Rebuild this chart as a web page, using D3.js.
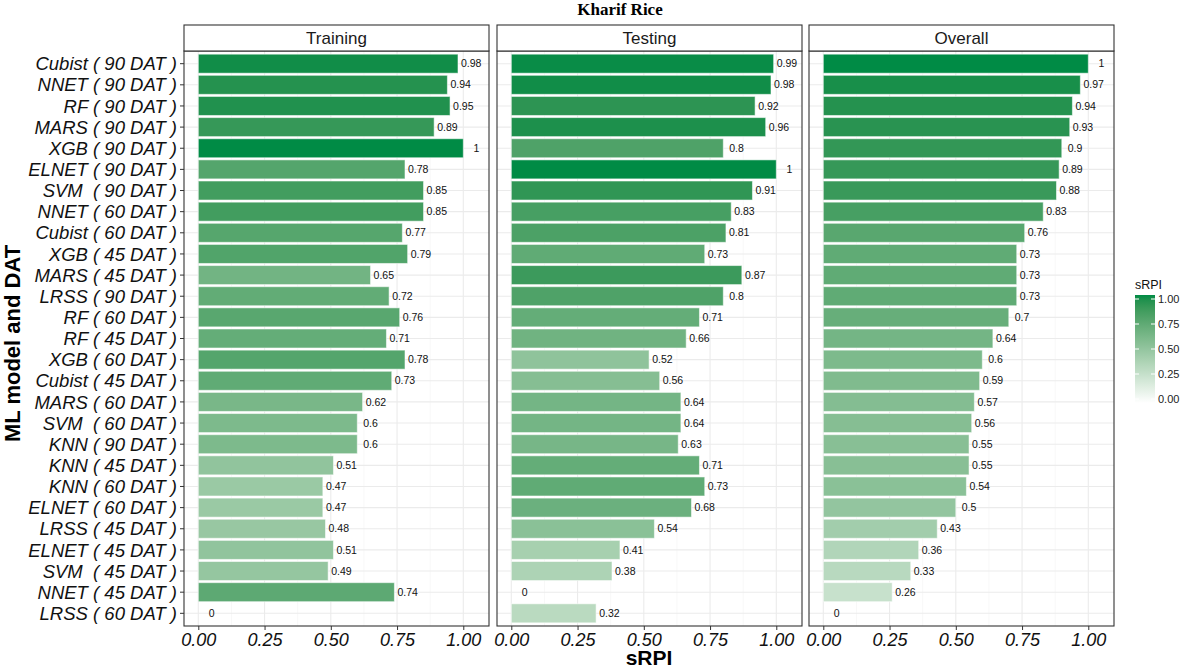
<html>
<head>
    <script src="https://d3js.org/d3.v7.min.js"></script>
    <style>
        body { margin: 0; background: white; }
        text { font-family: "Liberation Sans", Arial, sans-serif; }
    </style>
</head>
<body>
    <svg id="svg" width="1182" height="669"></svg>
    <script>
        // rows top to bottom
        const models = ["Cubist ( 90 DAT )", "NNET ( 90 DAT )", "RF ( 90 DAT )", "MARS ( 90 DAT )",
            "XGB ( 90 DAT )", "ELNET ( 90 DAT )", "SVM  ( 90 DAT )", "NNET ( 60 DAT )", "Cubist ( 60 DAT )",
            "XGB ( 45 DAT )", "MARS ( 45 DAT )", "LRSS ( 90 DAT )", "RF ( 60 DAT )", "RF ( 45 DAT )",
            "XGB ( 60 DAT )", "Cubist ( 45 DAT )", "MARS ( 60 DAT )", "SVM  ( 60 DAT )", "KNN ( 90 DAT )",
            "KNN ( 45 DAT )", "KNN ( 60 DAT )", "ELNET ( 60 DAT )", "LRSS ( 45 DAT )", "ELNET ( 45 DAT )",
            "SVM  ( 45 DAT )", "NNET ( 45 DAT )", "LRSS ( 60 DAT )"];
        const panels = ["Training", "Testing", "Overall"];
        const training = [0.98, 0.94, 0.95, 0.89, 1, 0.78, 0.85, 0.85, 0.77, 0.79, 0.65, 0.72, 0.76, 0.71,
            0.78, 0.73, 0.62, 0.6, 0.6, 0.51, 0.47, 0.47, 0.48, 0.51, 0.49, 0.74, 0];
        const testing = [0.99, 0.98, 0.92, 0.96, 0.8, 1, 0.91, 0.83, 0.81, 0.73, 0.87, 0.8, 0.71, 0.66,
            0.52, 0.56, 0.64, 0.64, 0.63, 0.71, 0.73, 0.68, 0.54, 0.41, 0.38, 0, 0.32];
        const overall = [1, 0.97, 0.94, 0.93, 0.9, 0.89, 0.88, 0.83, 0.76, 0.73, 0.73, 0.73, 0.7, 0.64,
            0.6, 0.59, 0.57, 0.56, 0.55, 0.55, 0.54, 0.5, 0.43, 0.36, 0.33, 0.26, 0];
        const xTicks = [0, 0.25, 0.5, 0.75, 1];
        const legendTicks = [0, 0.25, 0.5, 0.75, 1];

        const series = [training, testing, overall];

        const svg = d3.select("#svg");
        const panelLeft = [184, 497, 809];
        const panelW = 305;
        const plotTop = 51, plotBottom = 626, stripTop = 25;

        const color = d3.scaleLinear().domain([0, 1]).range(["#FFFFFF", "#008B45"]).interpolate(d3.interpolateLab);
        const fmt = v => String(+v.toFixed(2));

        // ggplot-like discrete axis: 0.6 units of padding at each end
        const yScale = d3.scalePoint().domain(models)
            .range([plotTop, plotBottom]).padding(0.6);
        const barH = yScale.step() * 0.9;

        panels.forEach((p, k) => {
            const x0 = panelLeft[k];
            const x = d3.scaleLinear().domain([-0.054, 1.097]).range([x0, x0 + panelW]);
            const g = svg.append("g");

            // minor grid
            g.selectAll("line.minor").data([0.125, 0.375, 0.625, 0.875])
                .join("line")
                .attr("x1", d => x(d)).attr("x2", d => x(d))
                .attr("y1", plotTop).attr("y2", plotBottom)
                .style("stroke", "#F2F2F2").style("stroke-width", 0.6);
            g.selectAll("line.vmajor").data(xTicks)
                .join("line")
                .attr("x1", d => x(d)).attr("x2", d => x(d))
                .attr("y1", plotTop).attr("y2", plotBottom)
                .style("stroke", "#EBEBEB").style("stroke-width", 1.1);
            g.selectAll("line.hmajor").data(models)
                .join("line")
                .attr("x1", x0).attr("x2", x0 + panelW)
                .attr("y1", d => yScale(d)).attr("y2", d => yScale(d))
                .style("stroke", "#EBEBEB").style("stroke-width", 1.1);

            const vals = series[k];
            g.selectAll("rect.bar").data(vals)
                .join("rect")
                .attr("x", x(0))
                .attr("y", (_, i) => yScale(models[i]) - barH / 2)
                .attr("width", d => x(d) - x(0))
                .attr("height", barH)
                .style("fill", d => color(d))
                .style("stroke", "rgba(255,255,255,0.55)")
                .style("stroke-width", 1)
                .style("display", d => d > 0 ? null : "none");

            g.selectAll("text.val").data(vals)
                .join("text")
                .attr("x", d => x(d + 0.05))
                .attr("y", (_, i) => yScale(models[i]))
                .attr("dy", "0.35em")
                .style("text-anchor", "middle")
                .style("font-size", "10.5px")
                .style("fill", "#111")
                .text(d => fmt(d));

            // panel border
            g.append("rect")
                .attr("x", x0).attr("y", plotTop)
                .attr("width", panelW).attr("height", plotBottom - plotTop)
                .style("fill", "none").style("stroke", "#333").style("stroke-width", 1.1);
            // strip
            g.append("rect")
                .attr("x", x0).attr("y", stripTop)
                .attr("width", panelW).attr("height", plotTop - stripTop)
                .style("fill", "white").style("stroke", "#333").style("stroke-width", 1.1);
            g.append("text")
                .attr("x", x0 + panelW / 2).attr("y", (stripTop + plotTop) / 2)
                .attr("dy", "0.36em")
                .style("text-anchor", "middle")
                .style("font-size", "17px")
                .style("fill", "#1a1a1a")
                .text(p);

            // x axis
            const ax = svg.append("g").attr("transform", `translate(0,${plotBottom})`)
                .call(d3.axisBottom(x).tickValues(xTicks).tickFormat(d3.format(".2f")).tickSize(4).tickPadding(3));
            ax.select(".domain").remove();
            ax.selectAll(".tick line").style("stroke", "#333");
            ax.selectAll(".tick text")
                .style("font-family", "'Liberation Sans', Arial, sans-serif")
                .style("font-size", "18px").style("font-style", "italic").style("fill", "#111");
        });

        // y axis labels
        const ya = svg.append("g");
        ya.selectAll("line").data(models).join("line")
            .attr("x1", 180).attr("x2", 184)
            .attr("y1", d => yScale(d)).attr("y2", d => yScale(d))
            .style("stroke", "#333");
        ya.selectAll("text").data(models).join("text")
            .attr("x", 177)
            .attr("y", d => yScale(d))
            .attr("dy", "0.36em")
            .style("text-anchor", "end")
            .style("font-size", "18.5px")
            .style("font-style", "italic")
            .style("white-space", "pre")
            .style("fill", "#111")
            .text(d => d);

        // axis titles
        svg.append("text")
            .attr("transform", `translate(20,${(plotTop + plotBottom) / 2 + 5}) rotate(-90)`)
            .style("text-anchor", "middle")
            .style("font-size", "22px").style("font-weight", "bold")
            .text("ML model and DAT");
        svg.append("text")
            .attr("x", (panelLeft[0] + panelLeft[2] + panelW) / 2).attr("y", 665)
            .style("text-anchor", "middle")
            .style("font-size", "21px").style("font-weight", "bold")
            .text("sRPI");
        svg.append("text")
            .attr("x", 620).attr("y", 15)
            .style("text-anchor", "middle")
            .style("font-family", "'Liberation Serif', 'Times New Roman', serif")
            .style("font-size", "17px").style("font-weight", "bold")
            .text("Kharif Rice");

        // legend colourbar
        const lg = svg.append("g");
        const ly = d3.scaleLinear().domain([0, 1]).range([399, 299]);
        const defs = svg.append("defs");
        const grad = defs.append("linearGradient").attr("id", "grad")
            .attr("x1", 0).attr("y1", 1).attr("x2", 0).attr("y2", 0);
        d3.range(0, 1.0001, 0.05).forEach(t => {
            grad.append("stop").attr("offset", t).attr("stop-color", color(t));
        });
        lg.append("rect")
            .attr("x", 1135).attr("y", ly(1.04))
            .attr("width", 20).attr("height", ly(-0.04) - ly(1.04))
            .style("fill", "url(#grad)");
        lg.selectAll("line.l").data(legendTicks).join("line")
            .attr("x1", 1135).attr("x2", 1139)
            .attr("y1", d => ly(d)).attr("y2", d => ly(d))
            .style("stroke", "white");
        lg.selectAll("line.r").data(legendTicks).join("line")
            .attr("x1", 1151).attr("x2", 1155)
            .attr("y1", d => ly(d)).attr("y2", d => ly(d))
            .style("stroke", "white");
        lg.selectAll("text.lab").data(legendTicks).join("text")
            .attr("x", 1158).attr("y", d => ly(d)).attr("dy", "0.35em")
            .style("font-size", "11px").style("fill", "#222")
            .text(d3.format(".2f"));
        lg.append("text")
            .attr("x", 1135).attr("y", 289)
            .style("font-size", "12.5px").style("fill", "#111")
            .text("sRPI");
    </script>
</body>
</html>
